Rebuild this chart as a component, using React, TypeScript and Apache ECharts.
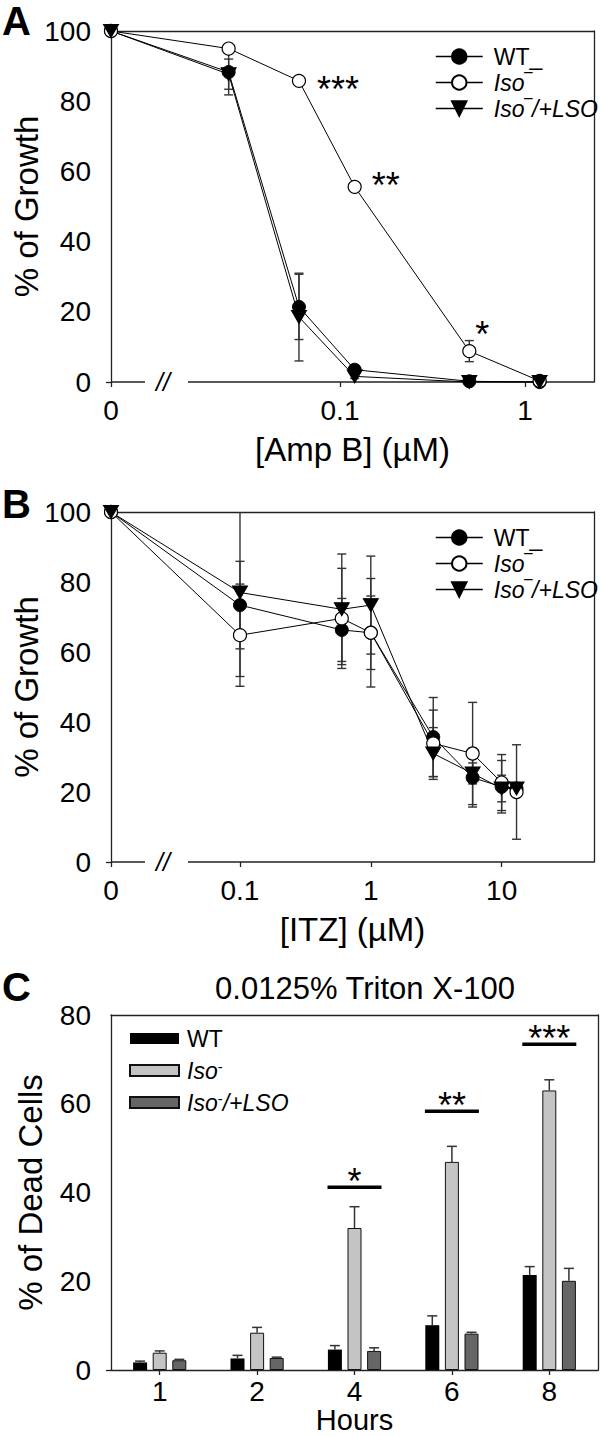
import React, { useEffect, useRef } from 'react';
import * as echarts from 'echarts';

const FONT = '"Liberation Sans", Arial, Helvetica, sans-serif';
const INK = '#000';
const AXIS = '#222';
const ERR = '#333';

// ---------- Panel A : Amp B ----------
const concA = [0, 0.025, 0.06, 0.12, 0.5, 1.2];
const wtA = [100, 88.3, 21.4, 3.5, 0.2, 0];
const wtAErr = [0, 6.5, 9.3, 0.8, 0, 0];
const isoA = [100, 95, 85.8, 55.6, 8.8, 0.3];
const isoAErr = [0, 1, 0, 0, 3, 0];
const lsoA = [100, 87.7, 18.5, 1.6, 0, 0];
const lsoAErr = [0, 4.3, 12.5, 0.6, 0, 0];
const sigA = ['', '', '***', '**', '*', ''];
const tickConcA = [0, 0.1, 1];
const tickTextA = ['0', '0.1', '1'];

// ---------- Panel B : ITZ ----------
const concB = [0, 0.1, 0.6, 1, 3, 6, 10, 13];
const wtB = [100, 73.4, 66.3, 65.5, 35.7, 24.1, 21.5, 21];
const wtBErr = [0, 12.5, 9, 10.5, 11.3, 8.4, 7.5, 0];
const isoB = [100, 64.8, 69.6, 65.5, 33.9, 31, 22.7, 20];
const isoBErr = [0, 14.6, 14.3, 15.5, 9.5, 14.6, 8, 13.5];
const lsoB = [100, 77, 72.2, 73.4, 31, 25.3, 21, 21];
const lsoBErr = [0, 24, 15.8, 14, 7.4, 3, 3.8, 0];
const tickConcB = [0, 0.1, 1, 10];
const tickTextB = ['0', '0.1', '1', '10'];

// ---------- Panel C : Triton X-100 ----------
const hours = ['1', '2', '4', '6', '8'];
const wtC = [1.7, 2.6, 4.6, 10.1, 21.4];
const wtCErr = [0.3, 0.7, 0.9, 2.1, 1.9];
const isoC = [3.9, 8.4, 32, 46.9, 63];
const isoCErr = [0.4, 1.2, 4.8, 3.5, 2.4];
const lsoC = [2.2, 2.7, 4.3, 8.2, 20.1];
const lsoCErr = [0.2, 0.2, 0.7, 0.3, 2.8];
const sigC = ['', '', '*', '**', '***'];
const sigCLevel = [0, 0, 41.2, 58.3, 73.4];

// axis extents in decades (position of the "0" break point and the right end)
const A_ZERO = -2.238;
const A_MAX = 0.373;
const B_ZERO = -1.986;
const B_MAX = 1.706;

// layout / style constants
const SIG_A_OFFSET = [[18, 9], [17, -1], [6, -17]];
const BAR_W = 14;
const BAR_STEP = 19.6;
const TICK_FS = 28;
const TITLE_FS = 33;
const LEG_FS = 23;
const STAR_FS = 36;

const toU = (c: number, zero: number) => (c === 0 ? zero : Math.log10(c));

const axisLineStyle = { color: AXIS, width: 1.3 };

function lineSeries(name: string, conc: number[], vals: number[], zero: number, idx: number, kind: string) {
  const s: any = {
    type: 'line',
    name,
    xAxisIndex: idx,
    yAxisIndex: idx,
    data: conc.map((c, i) => [toU(c, zero), vals[i]]),
    lineStyle: { color: '#000', width: 1 },
    symbol: 'circle',
    symbolSize: 13,
    showSymbol: true,
    clip: false,
    z: 3,
    silent: true,
  };
  if (kind === 'wt') s.itemStyle = { color: '#000', borderColor: '#000', borderWidth: 1 };
  if (kind === 'iso') s.itemStyle = { color: '#fff', borderColor: '#000', borderWidth: 1.2 };
  if (kind === 'lso') {
    s.symbol = 'triangle';
    s.symbolRotate = 180;
    s.symbolSize = [15, 13];
    s.itemStyle = { color: '#000', borderColor: '#000', borderWidth: 1 };
  }
  return s;
}

function errSeries(conc: number[], vals: number[], errs: number[], zero: number, idx: number, ymax: number) {
  const data: number[][] = [];
  conc.forEach((c, i) => {
    if (errs[i] > 0) data.push([toU(c, zero), Math.max(0, vals[i] - errs[i]), vals[i] + errs[i]]);
  });
  return {
    type: 'custom',
    xAxisIndex: idx,
    yAxisIndex: idx,
    z: 2,
    silent: true,
    encode: { x: 0, y: [1, 2] },
    data,
    renderItem: (params: any, api: any) => {
      const x = api.value(0);
      const lo = api.value(1);
      const hi = api.value(2);
      const b = api.coord([x, lo]);
      const t = api.coord([x, Math.min(hi, ymax)]);
      const st = { stroke: ERR, lineWidth: 1.4 };
      const children: any[] = [
        { type: 'line', shape: { x1: b[0], y1: b[1], x2: t[0], y2: t[1] }, style: st },
        { type: 'line', shape: { x1: b[0] - 4.5, y1: b[1], x2: b[0] + 4.5, y2: b[1] }, style: st },
      ];
      if (hi <= ymax) children.push({ type: 'line', shape: { x1: t[0] - 4.5, y1: t[1], x2: t[0] + 4.5, y2: t[1] }, style: st });
      return { type: 'group', children };
    },
  };
}

function breakSeries(zero: number, max: number, idx: number) {
  return {
    type: 'custom',
    xAxisIndex: idx,
    yAxisIndex: idx,
    z: 1,
    silent: true,
    data: [[zero, 0]],
    renderItem: (params: any, api: any) => {
      const a = api.coord([zero, 0]);
      const b = api.coord([max, 0]);
      const y = a[1];
      const st = { stroke: AXIS, lineWidth: 1.3 };
      return {
        type: 'group',
        children: [
          { type: 'line', shape: { x1: a[0], y1: y, x2: a[0] + 34, y2: y }, style: st },
          { type: 'line', shape: { x1: a[0] + 77, y1: y, x2: b[0], y2: y }, style: st },
          {
            type: 'text',
            style: {
              text: '//', x: a[0] + 52, y: y, font: `italic 25px ${FONT}`, fill: INK,
              align: 'center', textAlign: 'center', verticalAlign: 'middle', textVerticalAlign: 'middle',
            },
          },
        ],
      };
    },
  };
}

function logXAxis(idx: number, zero: number, max: number, ticks: number[], texts: string[], name: string) {
  const vals = ticks.map((c) => toU(c, zero));
  return {
    type: 'value',
    gridIndex: idx,
    min: zero,
    max,
    axisLine: { show: false },
    splitLine: { show: false },
    axisTick: { show: true, customValues: vals, length: 5, lineStyle: axisLineStyle },
    axisLabel: {
      customValues: vals,
      showMinLabel: true,
      hideOverlap: false,
      margin: 14,
      fontSize: TICK_FS,
      fontFamily: FONT,
      color: INK,
      formatter: (v: number) => {
        const i = vals.findIndex((u) => Math.abs(u - v) < 1e-6);
        return i >= 0 ? texts[i] : '';
      },
    },
    name,
    nameLocation: 'middle',
    nameGap: 51,
    nameMoveOverlap: false,
    nameTextStyle: { fontSize: TITLE_FS, fontFamily: FONT, color: INK },
  };
}

function frameX(idx: number) {
  return {
    type: 'value', gridIndex: idx, position: 'top', min: 0, max: 1,
    axisLine: { show: true, onZero: false, lineStyle: axisLineStyle },
    axisTick: { show: false }, axisLabel: { show: false }, splitLine: { show: false },
  };
}
function frameY(idx: number) {
  return {
    type: 'value', gridIndex: idx, position: 'right', min: 0, max: 1,
    axisLine: { show: true, onZero: false, lineStyle: axisLineStyle },
    axisTick: { show: false }, axisLabel: { show: false }, splitLine: { show: false },
  };
}
function valueY(idx: number, max: number, name: string, gap: number) {
  return {
    type: 'value', gridIndex: idx, min: 0, max, interval: 20,
    axisLine: { show: true, onZero: false, lineStyle: axisLineStyle },
    axisTick: { show: true, customValues: [0], length: 5, lineStyle: axisLineStyle },
    axisLabel: { fontSize: TICK_FS, fontFamily: FONT, color: INK, margin: 20 },
    splitLine: { show: false },
    name,
    nameLocation: 'middle',
    nameGap: gap,
    nameMoveOverlap: false,
    nameTextStyle: { fontSize: TITLE_FS, fontFamily: FONT, color: INK },
  };
}

const richLegend = {
  n: { fontSize: LEG_FS, fontFamily: FONT, color: INK },
  i: { fontSize: LEG_FS, fontFamily: FONT, color: INK, fontStyle: 'italic' },
  s: { fontSize: 15, fontFamily: FONT, color: INK, verticalAlign: 'top', padding: [0, 0, 8, 0] },
};

function lineLegendText(name: string) {
  if (name.startsWith('WT')) return '{n|WT}{n|_}';
  if (name.startsWith('Iso')) return '{i|Iso}{i|‾}';
  return '{i|Iso}{i|‾}{i|/+LSO}';
}
function barLegendText(name: string) {
  if (name.startsWith('WT')) return '{n|WT}';
  if (name.startsWith('Iso')) return '{i|Iso}{s|-}';
  return '{i|Iso}{s|-}{i|/+LSO}';
}

function starText(text: string, x: number, y: number, align: string) {
  return {
    type: 'text',
    style: {
      text, x, y, font: `${STAR_FS}px ${FONT}`, fill: INK,
      align, textAlign: align, verticalAlign: 'middle', textVerticalAlign: 'middle',
    },
  };
}

function buildOption() {
  const sigAItems: { u: number; v: number; t: string; o: number[] }[] = [];
  let k = 0;
  concA.forEach((c, i) => {
    if (sigA[i]) sigAItems.push({ u: toU(c, A_ZERO), v: isoA[i], t: sigA[i], o: SIG_A_OFFSET[k++] });
  });

  const sigCItems: { i: number; v: number; t: string }[] = [];
  sigC.forEach((t, i) => { if (t) sigCItems.push({ i, v: sigCLevel[i], t }); });

  const barSeries = (name: string, vals: number[], fill: string) => ({
    type: 'bar', name, xAxisIndex: 4, yAxisIndex: 4, data: vals, barWidth: BAR_W, barGap: '40%',
    itemStyle: { color: fill, borderColor: '#111', borderWidth: fill === '#000' ? 0 : 1 },
    z: 2, silent: true,
  });

  const barErr = (vals: number[], errs: number[], slot: number) => ({
    type: 'custom', xAxisIndex: 4, yAxisIndex: 4, z: 4, silent: true,
    encode: { x: 0, y: [1, 2] },
    data: vals.map((v, i) => [i, v, v + errs[i]]),
    renderItem: (params: any, api: any) => {
      const b = api.coord([api.value(0), api.value(1)]);
      const t = api.coord([api.value(0), api.value(2)]);
      const x = b[0] + slot * BAR_STEP;
      const st = { stroke: ERR, lineWidth: 1.5 };
      return {
        type: 'group',
        children: [
          { type: 'line', shape: { x1: x, y1: b[1], x2: x, y2: t[1] }, style: st },
          { type: 'line', shape: { x1: x - 5, y1: t[1], x2: x + 5, y2: t[1] }, style: st },
        ],
      };
    },
  });

  const legendCommon = {
    orient: 'vertical', selectedMode: false,
  };

  return {
    animation: false,
    backgroundColor: '#fff',
    textStyle: { fontFamily: FONT },
    grid: [
      { left: 111, top: 31, width: 483, height: 351, outerBoundsMode: 'none' },
      { left: 111, top: 512, width: 483, height: 350, outerBoundsMode: 'none' },
      { left: 111, top: 1015, width: 487, height: 355, outerBoundsMode: 'none' },
    ],
    xAxis: [
      logXAxis(0, A_ZERO, A_MAX, tickConcA, tickTextA, '[Amp B] (µM)'),
      frameX(0),
      logXAxis(1, B_ZERO, B_MAX, tickConcB, tickTextB, '[ITZ] (µM)'),
      frameX(1),
      {
        type: 'category', gridIndex: 2, data: hours,
        axisLine: { show: true, lineStyle: axisLineStyle },
        axisTick: { show: true, alignWithLabel: true, length: 5, lineStyle: axisLineStyle },
        axisLabel: { fontSize: TICK_FS, fontFamily: FONT, color: INK, margin: 7 },
        name: 'Hours', nameLocation: 'middle', nameGap: 35.5, nameMoveOverlap: false,
        nameTextStyle: { fontSize: 29, fontFamily: FONT, color: INK },
      },
      frameX(2),
    ],
    yAxis: [
      valueY(0, 100, '% of Growth', 68),
      frameY(0),
      valueY(1, 100, '% of Growth', 68),
      frameY(1),
      valueY(2, 80, '% of Dead Cells', 64),
      frameY(2),
    ],
    legend: [
      {
        ...legendCommon, left: 430, top: 40, itemWidth: 47, itemHeight: 18, itemGap: 3,
        lineStyle: { width: 1.5 },
        textStyle: { fontSize: LEG_FS, fontFamily: FONT, color: INK, rich: richLegend, padding: [0, 0, 0, 6] },
        data: ['WT_A', 'Iso_A', 'LSO_A'], formatter: lineLegendText,
      },
      {
        ...legendCommon, left: 430, top: 521, itemWidth: 47, itemHeight: 18, itemGap: 3,
        lineStyle: { width: 1.5 },
        textStyle: { fontSize: LEG_FS, fontFamily: FONT, color: INK, rich: richLegend, padding: [0, 0, 0, 6] },
        data: ['WT_B', 'Iso_B', 'LSO_B'], formatter: lineLegendText,
      },
      {
        ...legendCommon, left: 124, top: 1022, itemWidth: 49, itemHeight: 11, itemGap: 9, icon: 'rect',
        textStyle: { fontSize: LEG_FS, fontFamily: FONT, color: INK, rich: richLegend, padding: [0, 0, 0, 3] },
        data: ['WT_C', 'Iso_C', 'LSO_C'], formatter: barLegendText,
      },
    ],
    graphic: [
      { type: 'text', x: 2, y: 21, style: { text: 'A', font: `bold 40px ${FONT}`, fill: INK, verticalAlign: 'middle', textVerticalAlign: 'middle' } },
      { type: 'text', x: 2, y: 504, style: { text: 'B', font: `bold 40px ${FONT}`, fill: INK, verticalAlign: 'middle', textVerticalAlign: 'middle' } },
      { type: 'text', x: 2, y: 987, style: { text: 'C', font: `bold 40px ${FONT}`, fill: INK, verticalAlign: 'middle', textVerticalAlign: 'middle' } },
      {
        type: 'text', x: 365, y: 988,
        style: { text: '0.0125% Triton X-100', font: `31px ${FONT}`, fill: INK, align: 'center', textAlign: 'center', verticalAlign: 'middle', textVerticalAlign: 'middle' },
      },
    ],
    series: [
      // Panel A
      breakSeries(A_ZERO, A_MAX, 0),
      errSeries(concA, wtA, wtAErr, A_ZERO, 0, 100),
      errSeries(concA, isoA, isoAErr, A_ZERO, 0, 100),
      errSeries(concA, lsoA, lsoAErr, A_ZERO, 0, 100),
      lineSeries('WT_A', concA, wtA, A_ZERO, 0, 'wt'),
      lineSeries('Iso_A', concA, isoA, A_ZERO, 0, 'iso'),
      lineSeries('LSO_A', concA, lsoA, A_ZERO, 0, 'lso'),
      {
        type: 'custom', xAxisIndex: 0, yAxisIndex: 0, z: 6, silent: true,
        data: sigAItems.map((d) => [d.u, d.v]),
        renderItem: (params: any, api: any) => {
          const d = sigAItems[params.dataIndex];
          const p = api.coord([api.value(0), api.value(1)]);
          return starText(d.t, p[0] + d.o[0], p[1] + d.o[1], 'left');
        },
      },
      // Panel B
      breakSeries(B_ZERO, B_MAX, 2),
      errSeries(concB, wtB, wtBErr, B_ZERO, 2, 100),
      errSeries(concB, isoB, isoBErr, B_ZERO, 2, 100),
      errSeries(concB, lsoB, lsoBErr, B_ZERO, 2, 100),
      lineSeries('WT_B', concB, wtB, B_ZERO, 2, 'wt'),
      lineSeries('Iso_B', concB, isoB, B_ZERO, 2, 'iso'),
      lineSeries('LSO_B', concB, lsoB, B_ZERO, 2, 'lso'),
      // Panel C
      barSeries('WT_C', wtC, '#000'),
      barSeries('Iso_C', isoC, '#c4c4c4'),
      barSeries('LSO_C', lsoC, '#666'),
      barErr(wtC, wtCErr, -1),
      barErr(isoC, isoCErr, 0),
      barErr(lsoC, lsoCErr, 1),
      {
        type: 'custom', xAxisIndex: 4, yAxisIndex: 4, z: 5, silent: true,
        data: sigCItems.map((d) => [d.i, d.v]),
        renderItem: (params: any, api: any) => {
          const c = api.coord([api.value(0), api.value(1)]);
          const t = sigCItems[params.dataIndex].t;
          return {
            type: 'group',
            children: [
              { type: 'rect', shape: { x: c[0] - 27, y: c[1] - 1.75, width: 54, height: 3.5 }, style: { fill: '#000' } },
              starText(t, c[0], c[1] - 6, 'center'),
            ],
          };
        },
      },
    ],
  };
}

export default function App() {
  const ref = useRef<HTMLDivElement>(null);
  useEffect(() => {
    const chart = echarts.init(ref.current as HTMLDivElement, null, { renderer: 'svg' });
    chart.setOption(buildOption() as any);
    return () => chart.dispose();
  }, []);
  return (
    <div
      ref={ref}
      style={{ position: 'absolute', left: 0, top: 0, width: 600, height: 1436, background: '#fff' }}
    />
  );
}
